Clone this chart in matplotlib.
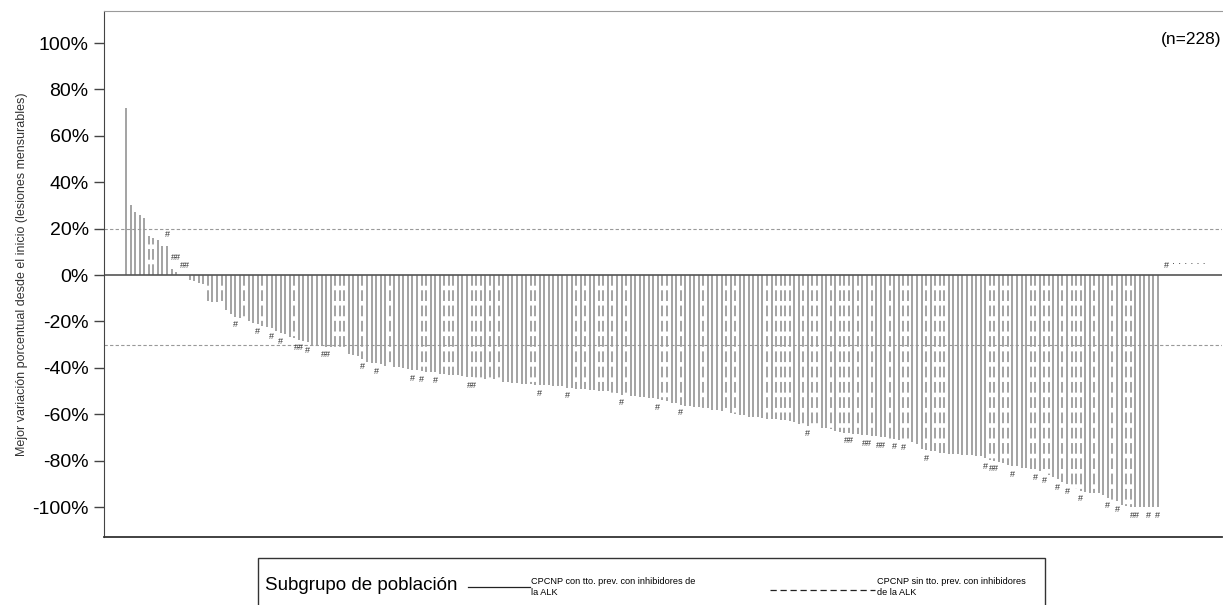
#! /bin/env python3

import matplotlib
matplotlib.use("Agg")
import matplotlib.pyplot as plt
from matplotlib import font_manager
from matplotlib.lines import Line2D
from matplotlib.patches import Rectangle

# best percent change from baseline, one value per patient (n=228), sorted
change = [
    72, 30, 27, 26, 24.5, 17, 16, 15, 12.5, 12.5,
    2.5, 1.5, 0, 0, -2, -2.5, -3.5, -4, -11, -11.5,
    -11.5, -12.5, -15, -17, -18, -18.5, -19, -20, -20.5, -21,
    -22, -22.5, -23, -24, -25, -25.5, -26.5, -27, -28, -28.5,
    -29, -30, -30, -30.5, -31, -31, -31, -31, -31.5, -34,
    -34.5, -35, -36, -37.5, -38, -38, -38.5, -39, -39, -39.5,
    -39.5, -40, -40.5, -41, -41, -41.5, -42, -42, -42, -42.5,
    -42.5, -43, -43, -43, -43.5, -44, -44, -44.5, -44.5, -45,
    -45, -45, -45.5, -46, -46, -46.5, -46.5, -47, -47, -47,
    -47.5, -47.5, -47.5, -47.5, -48, -48, -48, -48.5, -48.5, -49,
    -49, -49, -49.5, -49.5, -50, -50, -50, -51, -51, -51.5,
    -52, -52, -52, -52.5, -52.5, -53, -53, -53.5, -54, -54.5,
    -55, -55, -56, -56.5, -56.5, -57, -57, -57.5, -57.5, -58,
    -58, -58.5, -59, -59.5, -60, -60.5, -60.5, -61, -61, -61,
    -61.5, -62, -62, -62, -62.5, -62.5, -63, -63.5, -64, -64.5,
    -65, -65, -65.5, -66, -66, -66.5, -67, -67.5, -68, -68,
    -68.5, -68.5, -69, -69, -69.5, -69.5, -70, -70, -70.5, -70.5,
    -71, -71, -71.5, -72, -73, -75, -75.5, -76, -76, -76.5,
    -76.5, -77, -77, -77, -77.5, -77.5, -77.5, -78, -78, -79,
    -79.5, -80, -80.5, -81, -82, -82.5, -82.5, -83, -83, -83.5,
    -84, -84.5, -85, -86, -87, -88, -89, -90, -91, -92,
    -93, -93.5, -94, -94, -94, -95, -96, -97, -97.5, -99,
    -99.5, -100, -100, -100, -100, -100, -100, -100,
]

# patients without previous ALK inhibitor treatment (dashed bars)
no_prior_alk = [
    5, 6, 18, 21, 26, 30, 37, 46, 47, 48, 52, 58, 65, 66, 70, 71, 72,
    76, 77, 78, 80, 82, 89, 90, 99, 101, 104, 105, 107, 110, 118, 119,
    122, 127, 132, 134, 141, 143, 144, 145, 146, 149, 151, 152, 155,
    157, 158, 159, 161, 164, 168, 171, 172, 176, 178, 179, 180, 190,
    191, 193, 194, 199, 200, 202, 203, 206, 208, 209, 210, 213, 217,
    220, 221,
]

# footnote marks next to some bars
mark_idx = [9, 11, 13, 24, 29, 32, 34, 38, 40, 44, 52, 55, 63, 65, 68, 76,
            91, 97, 109, 117, 122, 150, 159, 163, 166, 169, 171, 176, 189,
            191, 195, 200, 202, 205, 207, 210, 216, 218, 222, 225, 227]
mark_sym = ["#", "##", "##", "#", "#", "#", "#", "##", "#", "##", "#", "#",
            "#", "#", "#", "##", "#", "#", "#", "#", "#", "#", "##", "##",
            "##", "#", "#", "#", "#", "##", "#", "#", "#", "#", "#", "#",
            "#", "#", "##", "#", "#"]
# marks above the small positive / zero bars sit at these heights
mark_pos_y = {9: 17.5, 11: 7.5, 13: 4.3}

yticks = [100, 80, 60, 40, 20, 0, -20, -40, -60, -80, -100]
ref_lines = [20, -30]
n_total = 228

legend_labels = ["CPCNP con tto. prev. con inhibidores de\nla ALK",
                 "CPCNP sin tto. prev. con inhibidores\nde la ALK"]

BAR = "#8a8a8a"
DARK = "#333333"


def main():
    plt.rcParams["font.family"] = ["Liberation Sans", "DejaVu Sans"]

    names = {f.name for f in font_manager.fontManager.ttflist}
    if "Liberation Sans Narrow" in names:
        narrow = ["Liberation Sans Narrow", "DejaVu Sans"]
        title_fs, small_fs, n_fs = 16.5, 8, 14
    else:
        narrow = ["Liberation Sans", "DejaVu Sans"]
        title_fs, small_fs, n_fs = 13.5, 6.6, 12.5

    fig = plt.figure(figsize=(12.23, 6.05), dpi=100)
    ax = fig.add_axes([104 / 1223, 68 / 605, 1118 / 1223, 526 / 605])

    dashed = set(no_prior_alk)
    for i, v in enumerate(change):
        if v == 0:
            continue
        if i in dashed:
            ax.vlines(i, 0, v, colors=BAR, linewidth=1.1,
                      linestyles=(0, (7, 3)))
        else:
            ax.vlines(i, 0, v, colors=BAR, linewidth=1.1)

    for i, s in zip(mark_idx, mark_sym):
        v = change[i]
        if i in mark_pos_y:
            ax.text(i, mark_pos_y[i], s, ha="center", va="center",
                    fontsize=6.5, color=DARK)
        else:
            ax.text(i, v - 1.5, s, ha="center", va="top", fontsize=6.5,
                    color=DARK)

    ax.text(n_total + 0.3, 2.0, "#", ha="left", va="bottom", fontsize=6.5,
            color=DARK)
    ax.text(n_total + 2.0, 2.8, "\u00b7 \u00b7 \u00b7 \u00b7 \u00b7 \u00b7",
            ha="left", va="bottom", fontsize=7, color=DARK,
            family="DejaVu Sans")

    ax.axhline(0, color="#555555", linewidth=1.2)
    for r in ref_lines:
        ax.axhline(r, color="#999999", linewidth=0.8, linestyle=(0, (3, 2)))

    ax.set_xlim(-4.85, 241.1)
    ax.set_ylim(-112.9, 113.8)

    ax.set_xticks([])
    ax.set_yticks(yticks)
    ax.set_yticklabels(["{}%".format(t) for t in yticks], fontsize=14)
    ax.tick_params(axis="y", direction="out", length=7, width=1,
                   color="#444444", pad=4)

    ax.spines["right"].set_visible(False)
    ax.spines["top"].set_color("#9a9a9a")
    ax.spines["top"].set_linewidth(0.8)
    ax.spines["left"].set_color("#444444")
    ax.spines["bottom"].set_color("#333333")
    ax.spines["bottom"].set_linewidth(1.3)

    ax.set_ylabel("Mejor variación porcentual desde el inicio (lesiones mensurables)",
                  fontsize=9, color=DARK, labelpad=3)

    ax.text(0.9995, 0.945, "(n={})".format(n_total), transform=ax.transAxes,
            ha="right", va="center", fontsize=n_fs, family=narrow)

    # legend box drawn by hand, bottom edge runs off the figure
    W, H = 1223.0, 605.0
    box = Rectangle((258 / W, -0.05), (1045 - 258) / W, 0.05 + (605 - 558) / H,
                    transform=fig.transFigure, fill=False,
                    edgecolor="#333333", linewidth=1.0, clip_on=False)
    fig.patches.append(box)

    fig.text(265 / W, 1 - 586 / H, "Subgrupo de población", fontsize=title_fs,
             ha="left", va="center", family=narrow)

    fig.add_artist(Line2D([468 / W, 530 / W], [1 - 587 / H, 1 - 587 / H],
                          transform=fig.transFigure, color="#222222",
                          linewidth=0.9))
    fig.text(531 / W, 1 - 587 / H, legend_labels[0], fontsize=small_fs,
             ha="left", va="center", linespacing=1.25, family=narrow)

    fig.add_artist(Line2D([770 / W, 875 / W], [1 - 590 / H, 1 - 590 / H],
                          transform=fig.transFigure, color="#222222",
                          linewidth=0.9, linestyle=(0, (5, 3))))
    fig.text(877 / W, 1 - 587 / H, legend_labels[1], fontsize=small_fs,
             ha="left", va="center", linespacing=1.25, family=narrow)

    plt.savefig("out.png", dpi=100)


if __name__ == "__main__":
    main()
